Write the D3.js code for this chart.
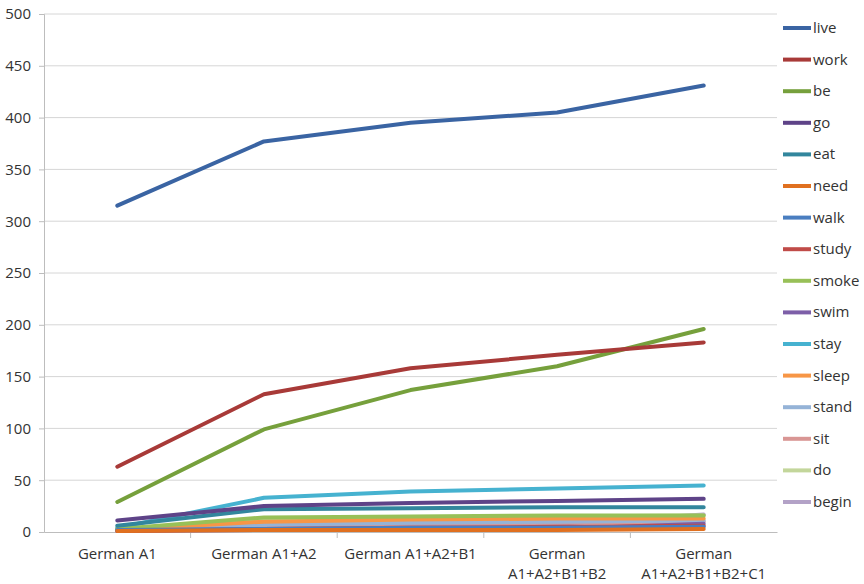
<!DOCTYPE html>
<html>
<head>
<meta charset="utf-8">
<script src="https://cdn.jsdelivr.net/npm/d3@7"></script>
<style>
  body { margin: 0; background: #fff; }
  text { font-family: "Open Sans", "Liberation Sans", sans-serif; fill: #333; }
</style>
</head>
<body>
<svg id="chart" width="864" height="584"></svg>
<script>
// chart data
var levels = ['German A1', 'German A1+A2', 'German A1+A2+B1', 'German A1+A2+B1+B2', 'German A1+A2+B1+B2+C1'];
var levelLines = [['German A1'], ['German A1+A2'], ['German A1+A2+B1'], ['German', 'A1+A2+B1+B2'], ['German', 'A1+A2+B1+B2+C1']];
var verbs = ['live', 'work', 'be', 'go', 'eat', 'need', 'walk', 'study', 'smoke', 'swim', 'stay', 'sleep', 'stand', 'sit', 'do', 'begin'];
var live  = [315, 377, 395, 405, 431];
var work  = [63, 133, 158, 171, 183];
var be    = [29, 99, 137, 160, 196];
var go    = [11, 25, 28, 30, 32];
var eat   = [6, 22, 23, 24, 24];
var need  = [1, 2, 2, 2, 3];
var walk  = [2, 3, 4, 4, 5];
var study = [1, 3, 4, 5, 6];
var smoke = [3, 14, 15, 16, 16];
var swim  = [1, 2, 3, 3, 8];
var stay  = [4, 33, 39, 42, 45];
var sleep = [2, 10, 12, 13, 13];
var stand = [3, 7, 9, 10, 11];
var sit   = [2, 6, 8, 9, 10];
var doo   = [2, 12, 14, 15, 16];
var begin = [1, 4, 6, 8, 17];
var yTicks = [0, 50, 100, 150, 200, 250, 300, 350, 400, 450, 500];

var colors = ['#3A64A3', '#A83A38', '#76A03C', '#5E4388', '#32869D', '#E07020',
              '#4A7EC0', '#C04B48', '#98C058', '#7D5FA8', '#46B2D0', '#F79646',
              '#95B3D7', '#D99694', '#C3D69B', '#B3A2C7'];

var series = [live, work, be, go, eat, need, walk, study, smoke, swim, stay, sleep, stand, sit, doo, begin];
var data = verbs.map(function(v, i) { return {name: v, values: series[i], color: colors[i]}; });

var svg = d3.select('#chart');
// note: "top" is taken by window.top, so prefix these
var plotLeft = 44, plotRight = 777, plotTop = 14, plotBottom = 532;
var fontSize = '15px';

var x = d3.scaleBand().domain(levels).range([plotLeft, plotRight]);
var y = d3.scaleLinear().domain([0, 500]).range([plotBottom, plotTop]);

// gridlines
svg.append('g').selectAll('line').data(yTicks.slice(1)).enter().append('line')
  .attr('x1', plotLeft).attr('x2', plotRight)
  .attr('y1', function(d) { return y(d); }).attr('y2', function(d) { return y(d); })
  .attr('stroke', '#d6d6d6').attr('stroke-width', 1);

// y axis
var yAxis = svg.append('g').attr('transform', 'translate(' + plotLeft + ',0)')
  .call(d3.axisLeft(y).tickValues(yTicks).tickSize(5).tickPadding(8));
yAxis.select('.domain').attr('stroke', '#bdbdbd');
yAxis.selectAll('.tick line').attr('stroke', '#bdbdbd');
yAxis.selectAll('text').style('font-size', fontSize).attr('fill', '#333');

// x axis
var xAxis = svg.append('g').attr('transform', 'translate(0,' + plotBottom + ')')
  .call(d3.axisBottom(x).tickSize(0).tickFormat(''));
xAxis.select('.domain').attr('stroke', '#bdbdbd');
svg.append('g').selectAll('line').data(levels.slice(1)).enter().append('line')
  .attr('x1', function(d) { return x(d); }).attr('x2', function(d) { return x(d); })
  .attr('y1', plotBottom).attr('y2', plotBottom + 6)
  .attr('stroke', '#bdbdbd');

svg.append('g').selectAll('text').data(levels).enter().append('text')
  .attr('x', function(d) { return x(d) + x.bandwidth() / 2; })
  .attr('y', 559)
  .attr('text-anchor', 'middle')
  .style('font-size', fontSize)
  .each(function(d, i) {
    var t = d3.select(this);
    levelLines[i].forEach(function(s, j) {
      t.append('tspan').attr('x', x(d) + x.bandwidth() / 2).attr('dy', j === 0 ? 0 : 20).text(s);
    });
  });

// lines, last series drawn first so live ends up on top
var line = d3.line()
  .x(function(d, i) { return x(levels[i]) + x.bandwidth() / 2; })
  .y(function(d) { return y(d); });

svg.append('g').selectAll('path').data(data.slice().reverse()).enter().append('path')
  .attr('d', function(d) { return line(d.values); })
  .attr('fill', 'none')
  .attr('stroke', function(d) { return d.color; })
  .attr('stroke-width', 4)
  .attr('stroke-linejoin', 'round')
  .attr('stroke-linecap', 'round');

// legend
var legend = svg.append('g').selectAll('g').data(data).enter().append('g')
  .attr('transform', function(d, i) { return 'translate(783,' + (28 + i * 31.6) + ')'; });
legend.append('line')
  .attr('x1', 0).attr('x2', 28).attr('y1', 0).attr('y2', 0)
  .attr('stroke', function(d) { return d.color; })
  .attr('stroke-width', 4);
legend.append('text')
  .attr('x', 30).attr('y', 5)
  .style('font-size', fontSize)
  .text(function(d) { return d.name; });
</script>
</body>
</html>
